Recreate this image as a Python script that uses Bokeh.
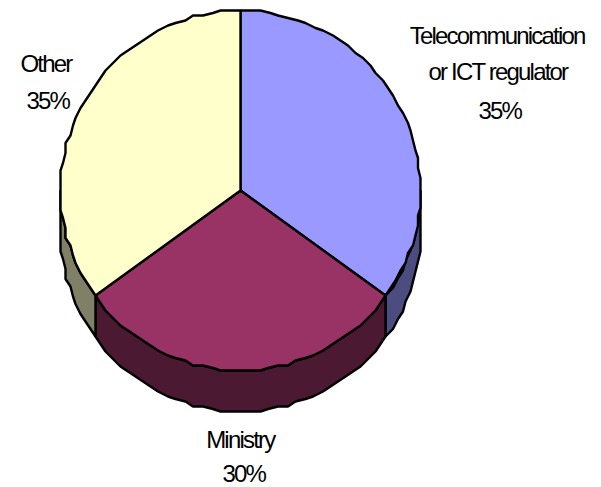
import numpy as np
from bokeh.plotting import figure
from bokeh.models import Range1d
from bokeh.core.properties import value
from bokeh.embed import file_html
from bokeh.resources import INLINE

categories = ["Telecommunication or ICT regulator", "Ministry", "Other"]
shares = [35, 30, 35]
top_colors = ["#9999FF", "#993366", "#FFFFCC"]
wall_colors = ["#4C4C80", "#4C1933", "#808066"]
label_lines = ["Telecommunication", "or ICT regulator", "35%", "Other", "35%", "Ministry", "30%"]
label_x = [512, 512, 502, 50, 50, 247, 246]
label_y = [35, 71, 110, 62.5, 99.5, 439, 472.5]

W, H = 601, 487
CX, CY, R, DEPTH = 240, 190, 180, 41
GRID = 2.5


def arc(a0, a1, dy=0.0, step=3.0):
    n = max(2, int(abs(a1 - a0) / step) + 1)
    a = np.radians(np.linspace(a0, a1, n))
    x = np.round((CX + R * np.sin(a)) / GRID) * GRID
    y = np.round((CY - R * np.cos(a)) / GRID) * GRID + dy
    return x, y


p = figure(width=W, height=H, output_backend="svg", toolbar_location=None,
           x_range=Range1d(0, W), y_range=Range1d(H, 0), min_border=0,
           outline_line_color=None, background_fill_color="white")
p.axis.visible = False
p.grid.visible = False
p.styles = {"letter-spacing": "-1.8px"}

edges = np.concatenate([[0], np.cumsum(shares)]) / np.sum(shares) * 360.0

# side walls, only where the rim faces the viewer
for i in range(len(shares)):
    lo, hi = max(edges[i], 90.0), min(edges[i + 1], 270.0)
    if hi <= lo:
        continue
    xa, ya = arc(lo, hi)
    xb, yb = arc(hi, lo, dy=DEPTH)
    p.patch(np.r_[xa, xb], np.r_[ya, yb], fill_color=wall_colors[i],
            line_color="black", line_width=2.4)

# top face
for i in range(len(shares)):
    xa, ya = arc(edges[i], edges[i + 1])
    p.patch(np.r_[CX, xa], np.r_[CY, ya], fill_color=top_colors[i],
            line_color="black", line_width=2.4)

p.text(label_x, label_y, text=label_lines, text_font=value("Liberation Sans"),
       text_font_size="24px", text_align="center", text_baseline="middle",
       text_color="black")

open("out.html", "w").write(file_html(p, INLINE))
